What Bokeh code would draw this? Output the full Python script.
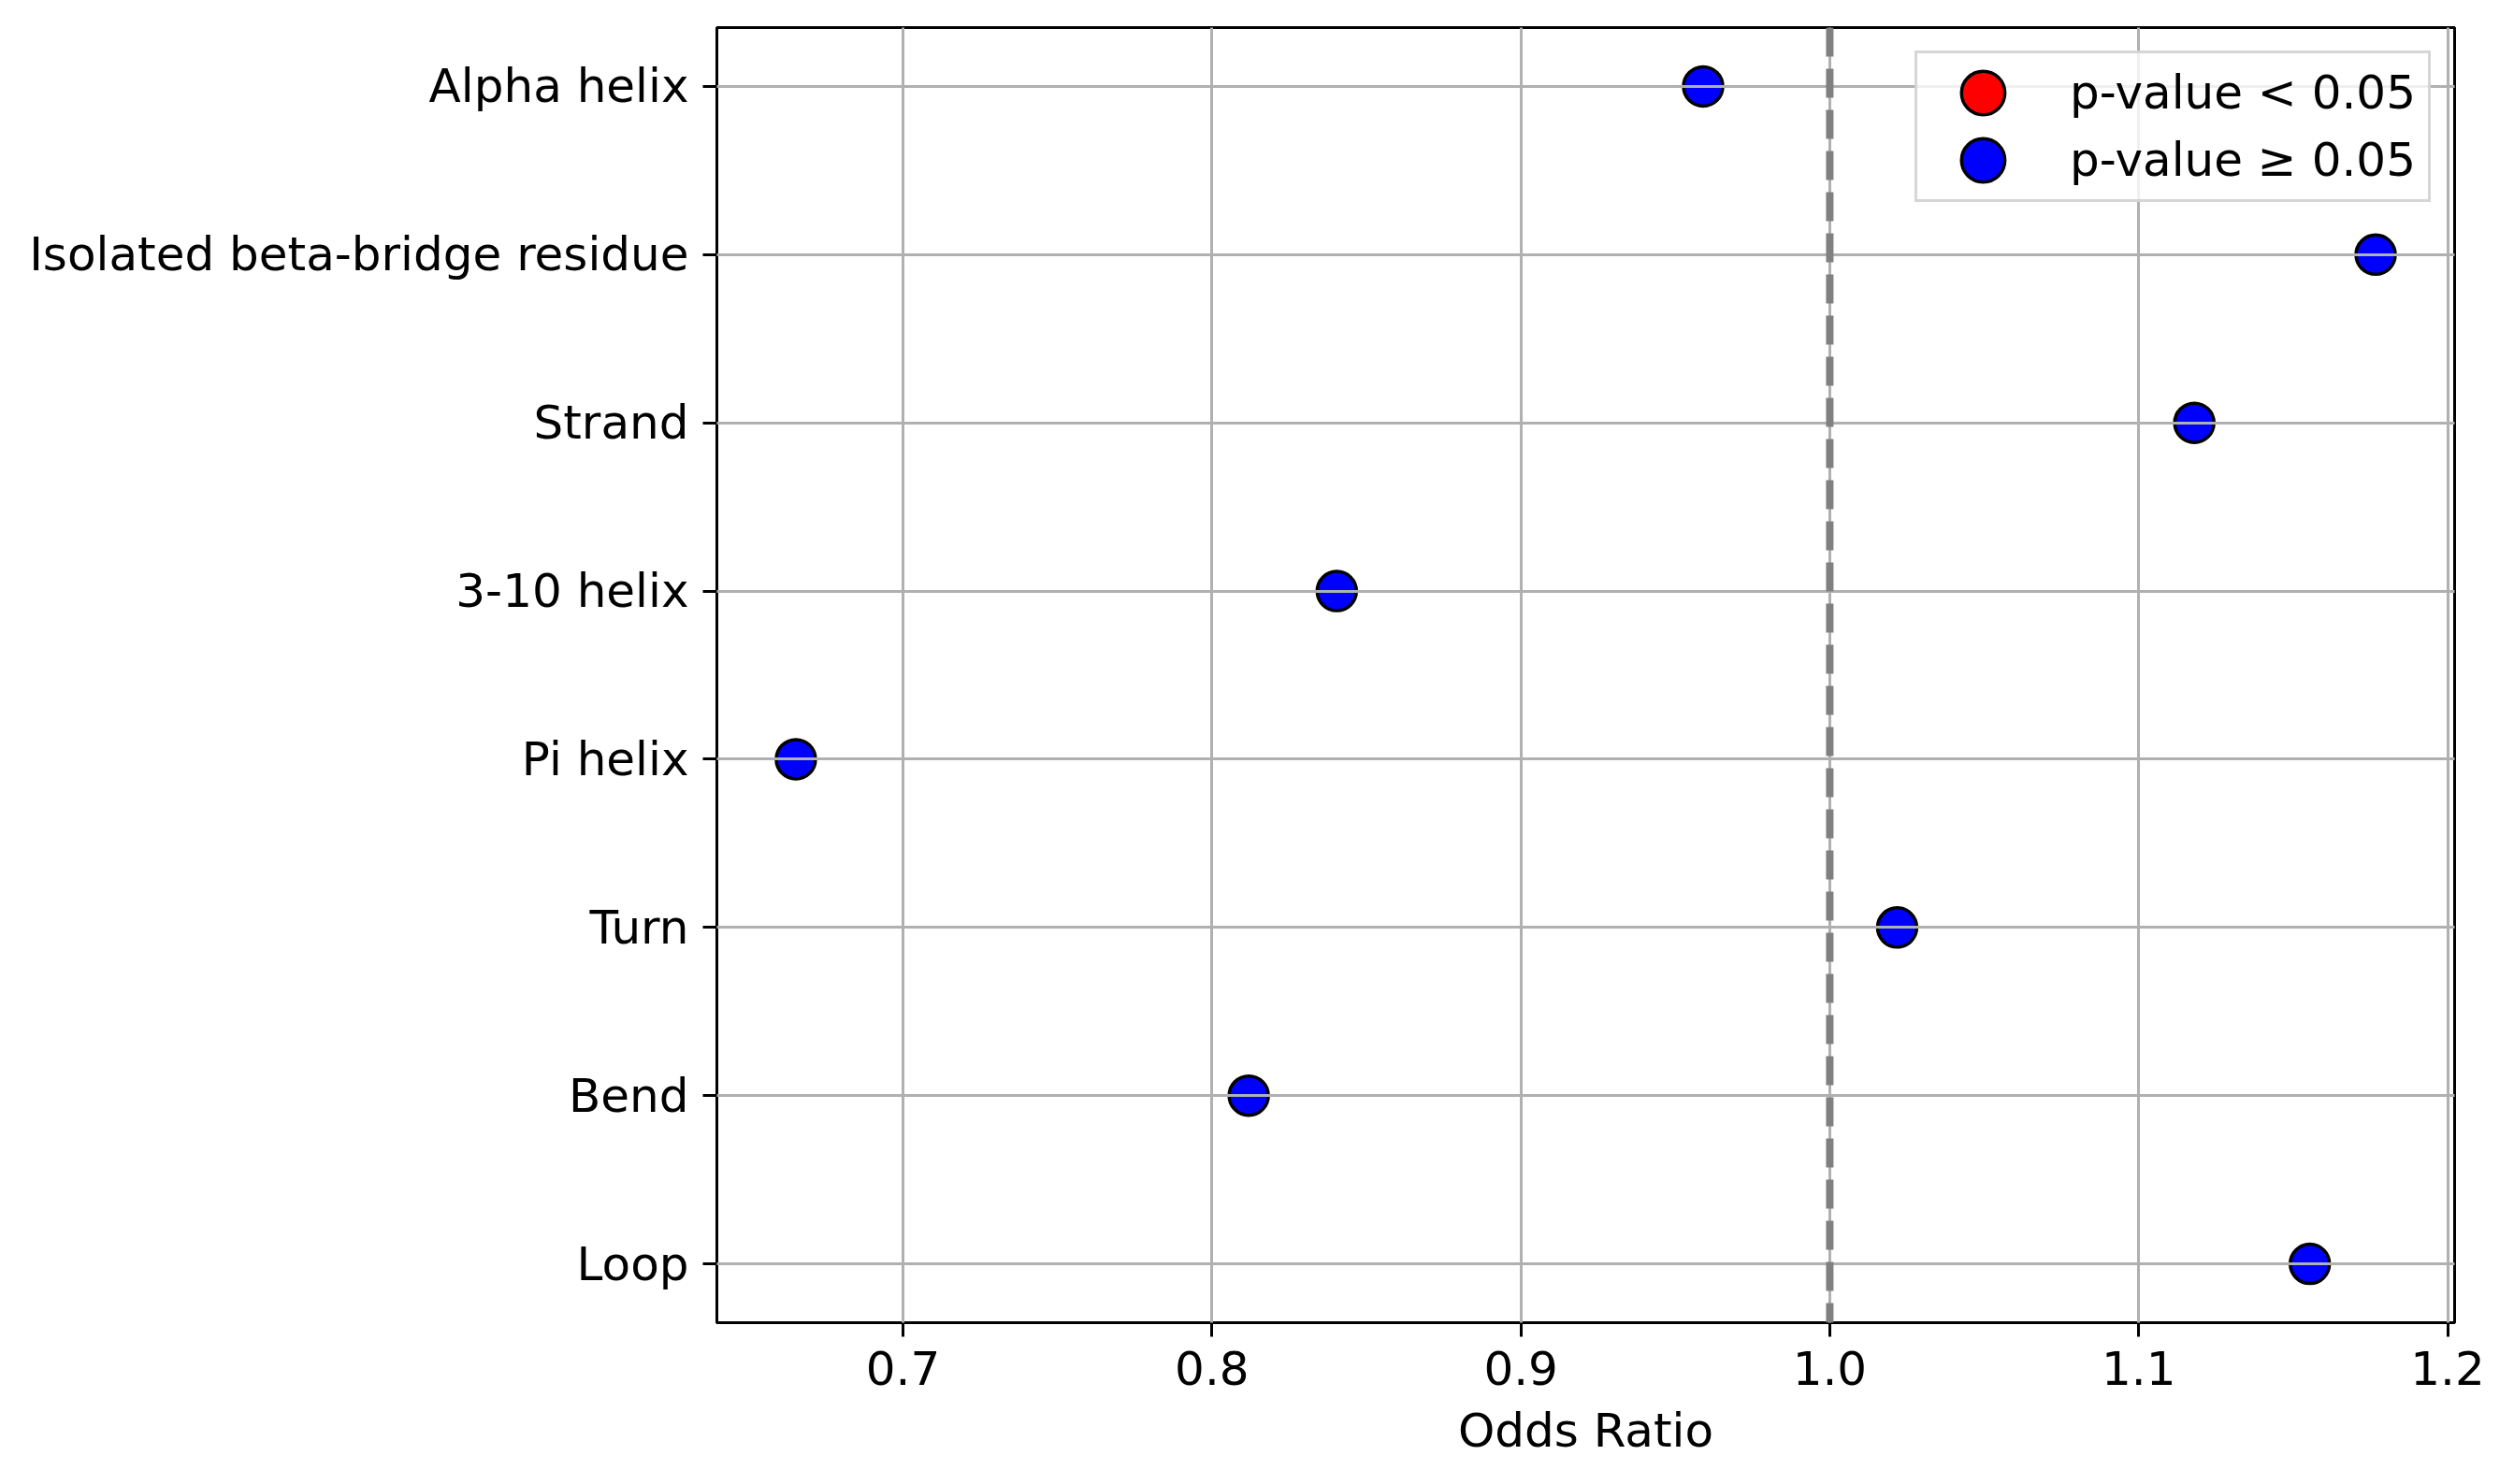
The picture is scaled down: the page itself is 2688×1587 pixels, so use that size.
import math
from bokeh.plotting import figure
from bokeh.models import Range1d, FixedTicker, Span, Legend, LegendItem, ColumnDataSource, PrintfTickFormatter
from bokeh.embed import file_html
from bokeh.resources import INLINE

categories = ["Alpha helix", "Isolated beta-bridge residue", "Strand", "3-10 helix",
              "Pi helix", "Turn", "Bend", "Loop"]
odds_ratio = [0.959, 1.1767, 1.118, 0.8404, 0.6653, 1.0218, 0.8119, 1.1554]
significant = [False, False, False, False, False, False, False, False]
x_ticks = [0.7, 0.8, 0.9, 1.0, 1.1, 1.2]
reference_value = 1.0

FONT = "DejaVu Sans"
n = len(categories)
ypos = [n - 1 - i for i in range(n)]

lo, hi = min(odds_ratio), max(odds_ratio)
pad = 0.05 * (hi - lo)

p = figure(width=2672, height=1571, output_backend="svg", toolbar_location=None,
           x_range=Range1d(lo - pad, hi + pad), y_range=Range1d(-0.35, n - 1 + 0.35),
           min_border_left=766, min_border_right=48, min_border_top=29, min_border_bottom=157)
p.background_fill_color = "white"
p.border_fill_color = "white"
p.outline_line_color = "black"
p.outline_line_width = 3

sig_x = [x for x, s in zip(odds_ratio, significant) if s]
sig_y = [y for y, s in zip(ypos, significant) if s]
ns_x = [x for x, s in zip(odds_ratio, significant) if not s]
ns_y = [y for y, s in zip(ypos, significant) if not s]
if not sig_x:
    sig_x, sig_y = [float("nan")], [float("nan")]

src_sig = ColumnDataSource(dict(x=sig_x, y=sig_y))
src_ns = ColumnDataSource(dict(x=ns_x, y=ns_y))
marker_kw = dict(width=42, height=42, width_units="screen", height_units="screen",
                 line_color="black", line_width=3.5)
r_sig = p.ellipse("x", "y", source=src_sig, fill_color="red", **marker_kw)
r_ns = p.ellipse("x", "y", source=src_ns, fill_color="blue", **marker_kw)

p.add_layout(Span(location=reference_value, dimension="height", line_color="#808080",
                  line_width=8, line_dash="31 13"))

# axes
p.xaxis.ticker = FixedTicker(ticks=x_ticks)
p.xaxis.formatter = PrintfTickFormatter(format="%.1f")
p.yaxis.ticker = FixedTicker(ticks=ypos)
p.yaxis.major_label_overrides = {y: c for y, c in zip(ypos, categories)}
p.xaxis.axis_label = "Odds Ratio"
for ax in (p.xaxis, p.yaxis):
    ax.axis_line_width = 3
    ax.axis_line_color = "black"
    ax.major_tick_line_width = 3
    ax.major_tick_in = 0
    ax.major_tick_out = 15
    ax.minor_tick_line_color = None
    ax.major_label_standoff = 15
    ax.major_label_text_font = FONT
    ax.major_label_text_font_size = "50px"
    ax.major_label_text_color = "black"
    ax.axis_label_text_font = FONT
    ax.axis_label_text_font_size = "50px"
    ax.axis_label_text_font_style = "normal"
    ax.axis_label_text_color = "black"
p.xaxis.axis_label_standoff = 17

for g in (p.xgrid, p.ygrid):
    g.grid_line_color = "#b0b0b0"
    g.grid_line_width = 3
    g.level = "guide"
p.ygrid.ticker = FixedTicker(ticks=ypos)

legend = Legend(items=[LegendItem(label="p-value < 0.05", renderers=[r_sig]),
                       LegendItem(label="p-value \u2265 0.05", renderers=[r_ns])],
                location="top_right", margin=25, padding=13, spacing=14,
                glyph_width=114, glyph_height=58, label_standoff=36,
                label_text_font=FONT, label_text_font_size="50px", label_text_color="black",
                border_line_color="#cccccc", border_line_width=3, border_line_alpha=0.8,
                background_fill_color="white", background_fill_alpha=0.8)
p.add_layout(legend)

open("out.html", "w").write(file_html(p, INLINE))
